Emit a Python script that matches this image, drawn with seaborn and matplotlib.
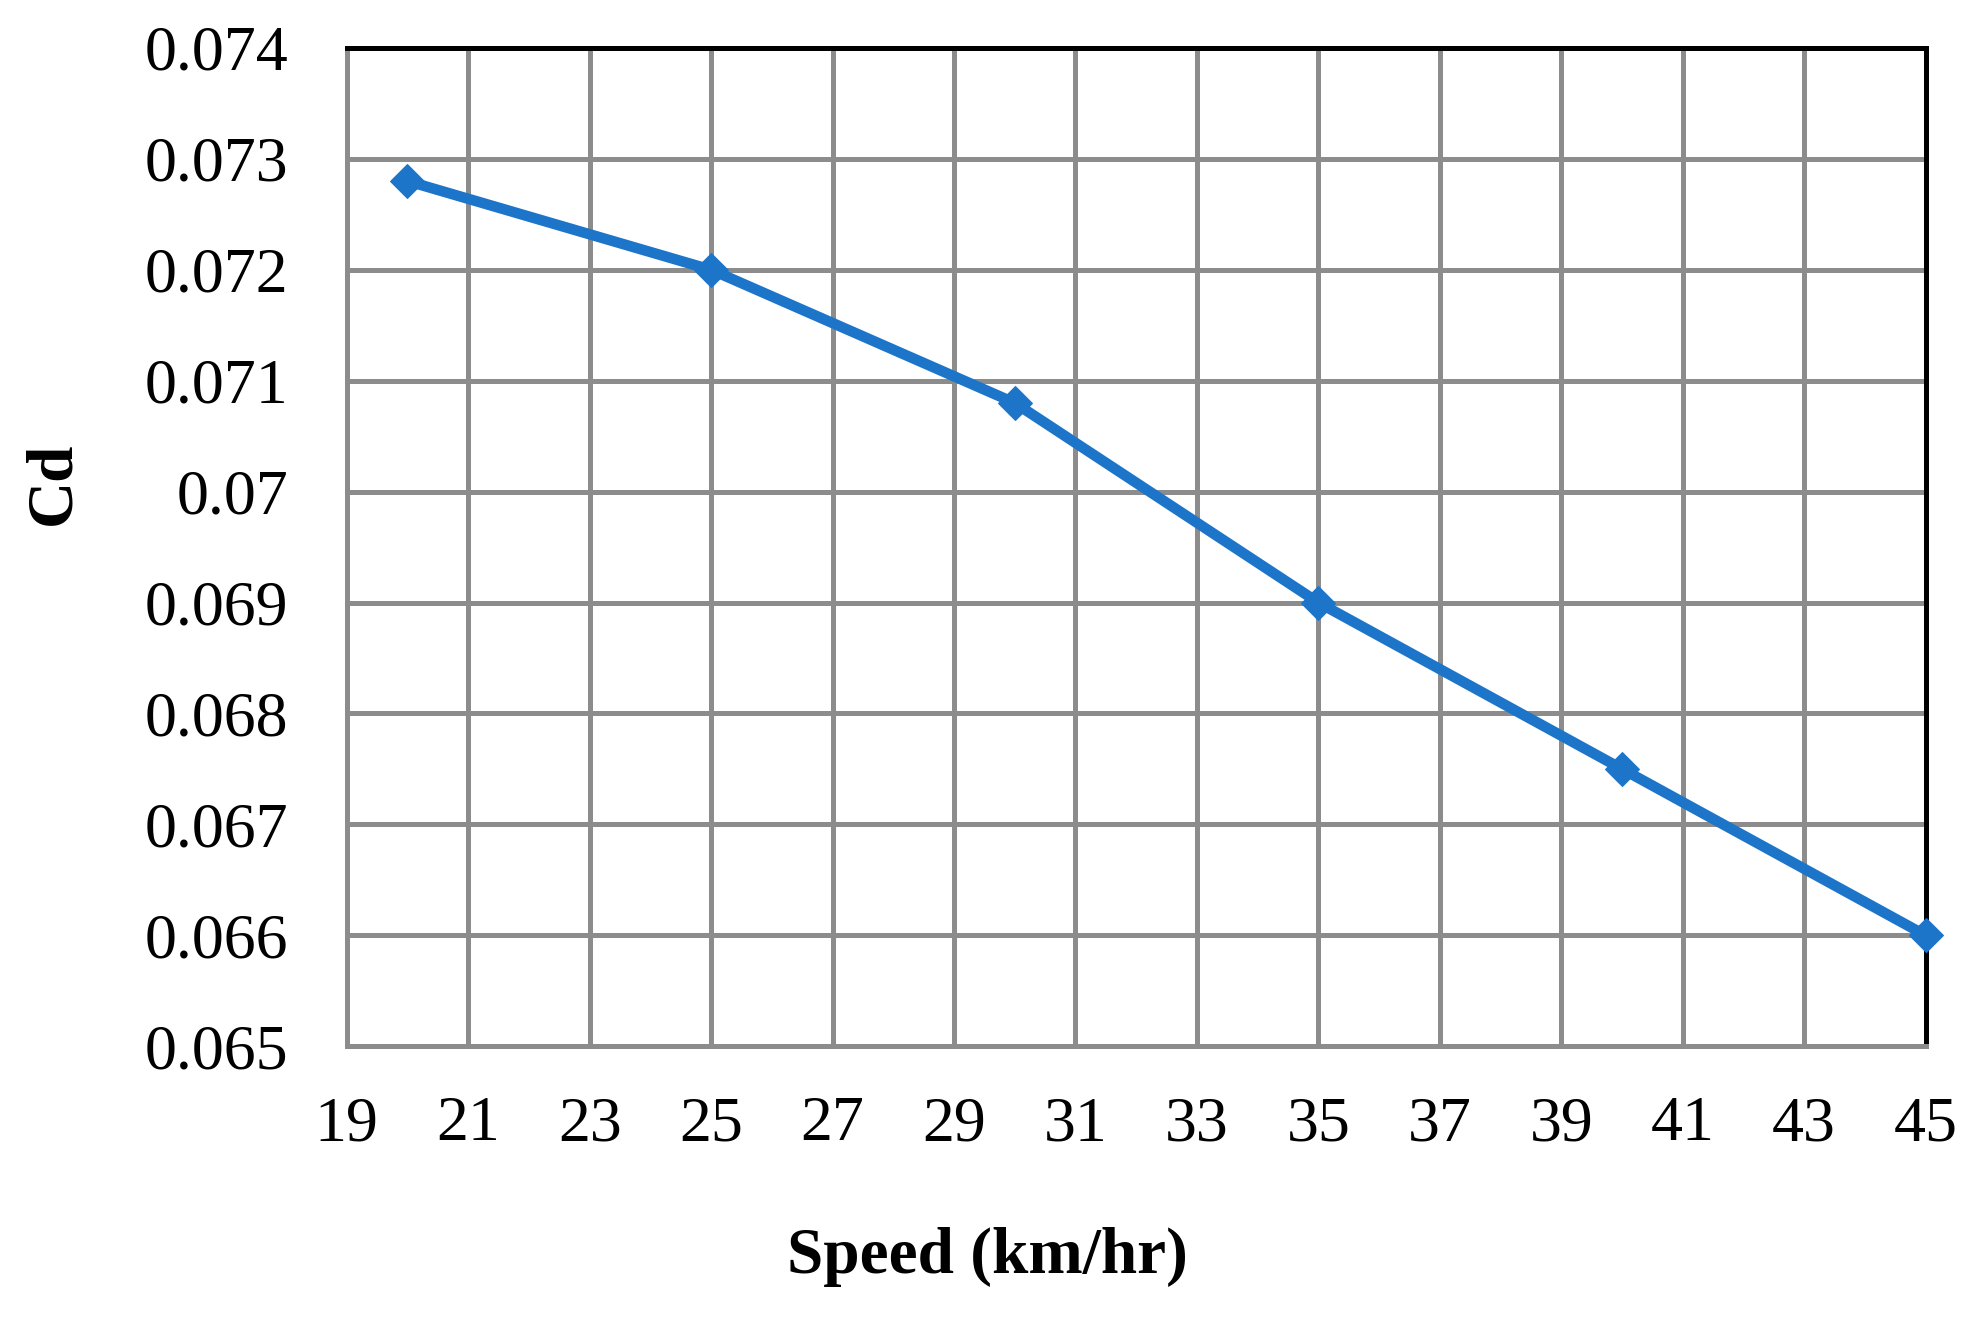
import numpy as np
import pandas as pd
import matplotlib
matplotlib.use('Agg')
import matplotlib.pyplot as plt
import seaborn as sns

speed = [20, 25, 30, 35, 40, 45]
cd = [0.0728, 0.0720, 0.0708, 0.0690, 0.0675, 0.0660]
x_ticks = list(range(19, 46, 2))
y_ticks = [0.065, 0.066, 0.067, 0.068, 0.069, 0.07, 0.071, 0.072, 0.073, 0.074]
y_labels = ['0.065', '0.066', '0.067', '0.068', '0.069', '0.07', '0.071', '0.072', '0.073', '0.074']

df = pd.DataFrame({'Speed': speed, 'Cd': cd})

sns.set_style('white')
plt.rcParams['font.family'] = ['Liberation Serif', 'DejaVu Serif']
plt.rcParams['text.color'] = 'black'

grid_col = '#8C8C8C'
line_col = '#1C75C8'

fig = plt.figure(figsize=(19.77, 13.21), dpi=100)
ax = fig.add_axes([0.1754, 0.208, 0.7986, 0.7557])

sns.lineplot(data=df, x='Speed', y='Cd', ax=ax, color=line_col, linewidth=7.6,
             marker='D', markersize=17, markeredgecolor=line_col, zorder=5, clip_on=False)

ax.set_xlim(19, 45)
ax.set_ylim(0.065, 0.074)
ax.set_xticks(x_ticks)
ax.set_yticks(y_ticks)
ax.set_yticklabels(y_labels)

ax.grid(True, color=grid_col, linewidth=3.6)
ax.set_axisbelow(True)

for side in ['top', 'right']:
    ax.spines[side].set_color('black')
    ax.spines[side].set_linewidth(3.6)
for side in ['left', 'bottom']:
    ax.spines[side].set_color(grid_col)
    ax.spines[side].set_linewidth(3.6)

ax.tick_params(axis='both', direction='out', length=14, width=3.6, color=grid_col,
               labelsize=46, labelcolor='black')
ax.tick_params(axis='x', pad=22)
ax.tick_params(axis='y', pad=28)

ax.set_xlabel('Speed (km/hr)', fontsize=47, fontweight='bold', color='black')
ax.set_ylabel('Cd', fontsize=47, fontweight='bold', color='black')
ax.xaxis.set_label_coords(0.4994, 0.0487, transform=fig.transFigure)
ax.yaxis.set_label_coords(0.0268, 0.6345, transform=fig.transFigure)
ax.xaxis.label.set_va('center')
ax.yaxis.label.set_va('center')

fig.savefig('out.png', dpi=100, facecolor='white')
